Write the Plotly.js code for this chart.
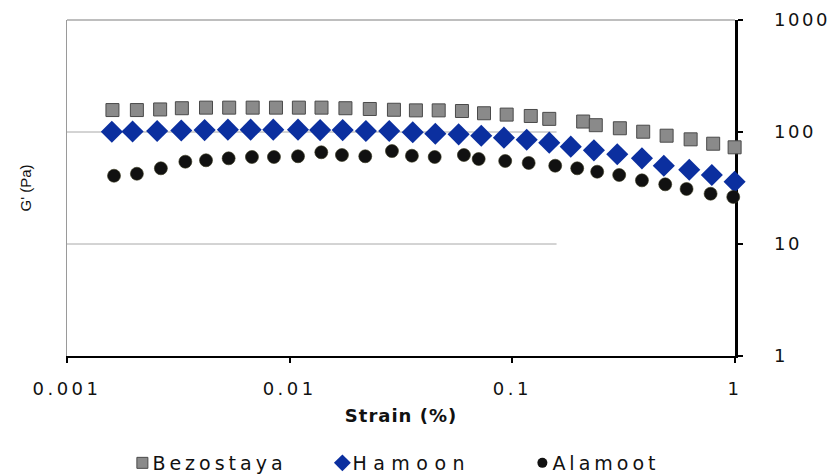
<!DOCTYPE html>
<html>
<head>
<meta charset="utf-8">
<script src="https://cdn.plot.ly/plotly-3.0.1.min.js"></script>
<style>
  html, body { margin: 0; padding: 0; background: #fff; }
  #chart { width: 830px; height: 475px; }
  .xtick text { letter-spacing: 3.5px; }
  .y2tick text { letter-spacing: 2.5px; }
  .legendtext { letter-spacing: 4px; transform: translateX(-10px); }
  .legend .traces:nth-child(2) .legendtext { letter-spacing: 6.5px; }
  .xtitle { letter-spacing: 1px; }
</style>
</head>
<body>
<div id="chart"></div>
<script>
// Strain (%) and G' (Pa)
const bezX = [0.0016, 0.00206, 0.00262, 0.00328, 0.00421, 0.00535, 0.00682, 0.00868, 0.011, 0.0139, 0.0178, 0.0229, 0.0294, 0.0369, 0.0467, 0.0594, 0.0746, 0.0943, 0.121, 0.1465, 0.208, 0.237, 0.304, 0.387, 0.493, 0.632, 0.798, 0.996];
const bezY = [157, 157, 159, 163, 165, 165, 165, 165, 165, 165, 163, 160.5, 158, 156, 156, 154, 147, 143, 139, 131, 124, 115, 108, 100.6, 92.7, 86, 78.6, 73];

const hamX = [0.00159, 0.00197, 0.00254, 0.00326, 0.00415, 0.00528, 0.00668, 0.00844, 0.0109, 0.0137, 0.0173, 0.022, 0.028, 0.0357, 0.0451, 0.0574, 0.0725, 0.0917, 0.116, 0.1465, 0.183, 0.2325, 0.296, 0.382, 0.479, 0.623, 0.787, 0.996];
const hamY = [100.6, 101, 102, 103, 104, 105, 105, 105, 105, 104, 104, 102, 102, 99.4, 96.5, 95.3, 92.7, 89, 85.4, 80.3, 74, 68.6, 63.2, 58.2, 50, 46, 41.3, 36];

const alaX = [0.001626, 0.00206, 0.00264, 0.0034, 0.00421, 0.00532, 0.00677, 0.0085, 0.0109, 0.01387, 0.01717, 0.02185, 0.0288, 0.0354, 0.0448, 0.0606, 0.0706, 0.0929, 0.1184, 0.1558, 0.1956, 0.2405, 0.302, 0.382, 0.486, 0.606, 0.777, 0.982];
const alaY = [40.7, 42.4, 47.4, 54.3, 55.9, 58.2, 59.8, 59.8, 60.7, 65.9, 62.3, 60.7, 67.6, 61.4, 59.8, 62.3, 57.4, 55.1, 52.9, 50, 47.4, 44.2, 41.3, 37, 34.1, 31, 28.1, 26.3];

const seriesNames = ['Bezostaya', 'Hamoon', 'Alamoot'];
const xTickVals = [0.001, 0.01, 0.1, 1];
const xTickText = ['0.001', '0.01', '0.1', '1'];
const yTickVals = [1, 10, 100, 1000];
const yTickText = ['1', '10', '100', '1000'];
const gridVals = [10, 100];
const gridEnd = 0.158;

const styles = [
  {symbol: 'square', size: 13, color: '#8a8a8a', line: {color: '#4a4a4a', width: 1}},
  {symbol: 'diamond', size: 17, color: '#0b2f9f', line: {color: '#0b2f9f', width: 0}},
  {symbol: 'circle', size: 13, color: '#111111', line: {color: '#33331a', width: 0.6}}
];
const legendStyles = [
  {symbol: 'square', size: 11, color: '#8a8a8a', line: {color: '#4a4a4a', width: 1}},
  {symbol: 'diamond', size: 13, color: '#0b2f9f', line: {width: 0}},
  {symbol: 'circle', size: 10, color: '#111111', line: {width: 0}}
];

const xs = [bezX, hamX, alaX];
const ys = [bezY, hamY, alaY];

const traces = [];
for (let i = 0; i < 3; i++) {
  traces.push({
    type: 'scatter', mode: 'markers', x: xs[i], y: ys[i], name: seriesNames[i],
    marker: styles[i], showlegend: false, cliponaxis: false, hoverinfo: 'x+y'
  });
}
// legend-only entries (no data) so the legend symbols can be small like the reference
for (let i = 0; i < 3; i++) {
  traces.push({
    type: 'scatter', mode: 'markers', x: [null], y: [null], name: seriesNames[i],
    marker: legendStyles[i], showlegend: true, yaxis: 'y2'
  });
}

const shapes = [
  {type: 'line', xref: 'paper', yref: 'paper', x0: 0, x1: 1, y0: 1, y1: 1,
   line: {color: '#a8a8a8', width: 1.5}, layer: 'below'}
];
gridVals.forEach(v => shapes.push({
  type: 'line', xref: 'x', yref: 'y', x0: xTickVals[0], x1: gridEnd, y0: v, y1: v,
  line: {color: '#a8a8a8', width: 1}, layer: 'below'
}));

const layout = {
  width: 830, height: 475,
  margin: {l: 67, r: 95, t: 20, b: 119},
  paper_bgcolor: '#ffffff', plot_bgcolor: '#ffffff',
  font: {family: 'DejaVu Sans, sans-serif', color: '#111111', size: 18},
  xaxis: {
    type: 'log', range: [-3, 0], tickvals: xTickVals, ticktext: xTickText,
    ticks: 'outside', ticklen: 5, tickwidth: 2, tickcolor: '#000',
    showline: true, linecolor: '#000', linewidth: 2, showgrid: false, zeroline: false,
    tickfont: {size: 18}, ticklabelstandoff: 10,
    title: {text: 'Strain (%)', font: {size: 18, weight: 'bold'}, standoff: 12},
    layer: 'below traces', automargin: false
  },
  yaxis: {
    type: 'log', range: [0, 3], showticklabels: false, ticks: '',
    showline: true, linecolor: '#9a9a9a', linewidth: 1.5, showgrid: false, zeroline: false,
    title: {text: "G' (Pa)", font: {size: 15, family: 'Liberation Sans, Arial, sans-serif'}, standoff: 30}, automargin: false
  },
  yaxis2: {
    type: 'log', range: [0, 3], overlaying: 'y', side: 'right',
    tickvals: yTickVals, ticktext: yTickText,
    ticks: 'outside', ticklen: 5, tickwidth: 2, tickcolor: '#000',
    showline: true, linecolor: '#000', linewidth: 2.5, showgrid: false, zeroline: false,
    tickfont: {size: 18}, ticklabelstandoff: 28, layer: 'below traces', automargin: false
  },
  showlegend: true,
  legend: {
    orientation: 'h', x: 0.532, xanchor: 'center', y: 12 / 475, yref: 'container', yanchor: 'middle',
    font: {size: 19}, bgcolor: 'rgba(0,0,0,0)', itemwidth: 30,
    entrywidth: 155, entrywidthmode: 'pixels'
  },
  shapes: shapes
};

Plotly.newPlot('chart', traces, layout, {displayModeBar: false, staticPlot: true});
</script>
</body>
</html>
